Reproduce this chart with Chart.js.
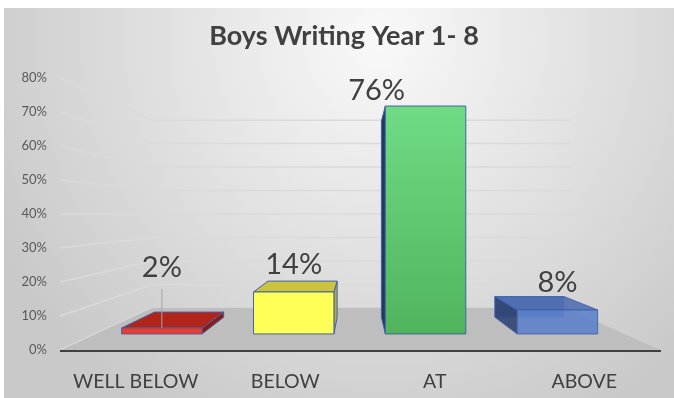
<!DOCTYPE html>
<html>
<head>
<meta charset="utf-8">
<title>Boys Writing Year 1- 8</title>
<script src="https://cdn.jsdelivr.net/npm/chart.js@4.4.1/dist/chart.umd.min.js"></script>
<style>
  html, body { margin: 0; padding: 0; background: #fff; }
  #wrap { width: 674px; height: 398px; }
</style>
</head>
<body>
<div id="wrap"><canvas id="chart" width="674" height="398"></canvas></div>
<script>
const chartTitle = 'Boys Writing Year 1- 8';
const categories = ['WELL BELOW', 'BELOW', 'AT', 'ABOVE'];
const boysWriting = [2, 14, 76, 8];
const yMin = 0;
const yMax = 80;
const yStep = 10;

// face colours per bar: front, top, side
const faces = [
  { front: '#ee3a2b', top: '#b0241a', side: '#8c1b13', alpha: 1 },
  { front: '#ffff57', top: '#c9c33d', side: '#b3ae36', alpha: 1 },
  { front: ['#6fdc85', '#50b45d'], top: '#5cc46e', side: '#213a55', alpha: 1 },
  { front: '#5b7fcb', top: '#4e6cb2', side: '#2d4271', alpha: 0.88 }
];
// where each value label sits, relative to just above the bar
const labelShift = [[0, -33], [0, 0], [-49, 12], [0, 0]];

// perspective: depth 0 is the axis plane, walls sit furthest back
const EYE_VALUE = 40;
const D_FRONT = 0.118;
const D_BACK = 0.241;
const D_WALL = 0.31;

function vanish(chart) {
  const a = chart.chartArea;
  return { x: (a.left + a.right) / 2 - 3, y: chart.scales.y.getPixelForValue(EYE_VALUE) };
}

function proj(vp, x, y, d) {
  return [x + (vp.x - x) * d, y + (vp.y - y) * d];
}

function poly(ctx, pts, fill, stroke) {
  ctx.beginPath();
  ctx.moveTo(pts[0][0], pts[0][1]);
  for (let i = 1; i < pts.length; i++) ctx.lineTo(pts[i][0], pts[i][1]);
  ctx.closePath();
  if (fill) { ctx.fillStyle = fill; ctx.fill(); }
  if (stroke) { ctx.strokeStyle = stroke; ctx.stroke(); }
}

const backdrop = {
  id: 'backdrop',
  beforeDraw(chart) {
    const { ctx, width, height } = chart;
    ctx.save();
    ctx.fillStyle = '#fff';
    ctx.fillRect(0, 0, width, height);
    const g = ctx.createRadialGradient(380, 40, 10, 380, 40, 430);
    g.addColorStop(0, '#f8f8f8');
    g.addColorStop(1, '#c9c9c9');
    ctx.fillStyle = g;
    ctx.fillRect(4, 8, width - 4, height - 8);
    // title sits a little right of the canvas centre
    ctx.fillStyle = '#404040';
    ctx.font = 'bold 27px Lato';
    ctx.textAlign = 'center';
    ctx.textBaseline = 'middle';
    ctx.fillText(chartTitle, 344, 36);
    ctx.restore();
  }
};

const room = {
  id: 'room',
  beforeDatasetsDraw(chart) {
    const { ctx, chartArea: a, scales: { y } } = chart;
    const vp = vanish(chart);
    ctx.save();
    // gridlines run along the side wall then across the back wall
    ctx.lineWidth = 1.5;
    ctx.strokeStyle = '#dadada';
    y.ticks.forEach(t => {
      const py = y.getPixelForValue(t.value);
      const bl = proj(vp, a.left, py, D_WALL);
      const br = proj(vp, a.right, py, D_WALL);
      ctx.beginPath();
      ctx.moveTo(a.left - 1, py);
      ctx.lineTo(bl[0], bl[1]);
      ctx.lineTo(br[0] + 5, br[1]);
      ctx.stroke();
    });
    // floor
    const base = y.getPixelForValue(0);
    poly(ctx, [
      [a.left, base], [a.right + 1, base],
      proj(vp, a.right + 1, base, D_WALL), proj(vp, a.left, base, D_WALL)
    ], '#bebebe');
    ctx.lineWidth = 2;
    ctx.strokeStyle = '#404040';
    ctx.beginPath();
    ctx.moveTo(a.left - 1, base + 1);
    ctx.lineTo(a.right + 2, base + 1);
    ctx.stroke();
    ctx.restore();
  },
  afterDatasetsDraw(chart) {
    const { ctx } = chart;
    const vp = vanish(chart);
    const meta = chart.getDatasetMeta(0);
    ctx.save();
    ctx.lineWidth = 1;
    ctx.lineJoin = 'round';
    meta.data.forEach((bar, i) => {
      const { x, y, base, width } = bar.getProps(['x', 'y', 'base', 'width'], true);
      const L = x - width / 2, R = x + width / 2;
      const c = faces[i];
      const fTL = proj(vp, L, y, D_FRONT), fTR = proj(vp, R, y, D_FRONT);
      const fBL = proj(vp, L, base, D_FRONT), fBR = proj(vp, R, base, D_FRONT);
      const bTL = proj(vp, L, y, D_BACK), bTR = proj(vp, R, y, D_BACK);
      const bBL = proj(vp, L, base, D_BACK), bBR = proj(vp, R, base, D_BACK);
      const edge = '#4063a8';
      ctx.globalAlpha = c.alpha;
      if (c.alpha < 1) {
        // see-through box: hidden faces first
        poly(ctx, [bTL, bTR, bBR, bBL], c.top, 'rgba(120,150,210,0.9)');
      }
      if (x < vp.x) poly(ctx, [fTR, bTR, bBR, fBR], c.side, edge);
      else poly(ctx, [fTL, bTL, bBL, fBL], c.side, edge);
      if (y > vp.y) poly(ctx, [fTL, fTR, bTR, bTL], c.top, edge);
      let front = c.front;
      if (Array.isArray(front)) {
        const g = ctx.createLinearGradient(0, fTL[1], 0, fBL[1]);
        g.addColorStop(0, front[0]);
        g.addColorStop(1, front[1]);
        front = g;
      }
      poly(ctx, [fTL, fTR, fBR, fBL], front, edge);
      ctx.globalAlpha = 1;

      // value label
      const lx = (fTL[0] + fTR[0]) / 2 + labelShift[i][0];
      const ly = fTL[1] - 27 + labelShift[i][1];
      if (labelShift[i][1] < -20) {
        ctx.strokeStyle = '#a6a6a6';
        ctx.beginPath();
        ctx.moveTo(lx, ly + 21);
        ctx.lineTo((fTL[0] + fTR[0]) / 2, fTL[1]);
        ctx.stroke();
      }
      ctx.fillStyle = '#404040';
      ctx.font = '29px Lato';
      ctx.textAlign = 'center';
      ctx.textBaseline = 'middle';
      ctx.fillText(boysWriting[i] + '%', lx, ly);
    });
    ctx.restore();
  }
};

new Chart(document.getElementById('chart'), {
  type: 'bar',
  data: {
    labels: categories,
    datasets: [{
      data: boysWriting,
      backgroundColor: 'rgba(0,0,0,0)',
      borderWidth: 0,
      barPercentage: 0.61,
      categoryPercentage: 1
    }]
  },
  options: {
    responsive: false,
    animation: false,
    layout: { padding: { left: 14, right: 15, top: 78, bottom: 0 } },
    plugins: {
      legend: { display: false },
      tooltip: { enabled: false },
      title: { display: false }
    },
    scales: {
      x: {
        grid: { display: false, drawTicks: false },
        border: { display: false },
        ticks: { color: '#404040', font: { family: 'Lato', size: 19.5 }, padding: 20 },
        afterFit(s) { s.height = 48; }
      },
      y: {
        min: yMin,
        max: yMax,
        grid: { display: false, drawTicks: false },
        border: { display: false },
        ticks: {
          stepSize: yStep,
          color: '#595959',
          font: { family: 'Lato', size: 13 },
          padding: 14,
          callback: v => v + '%'
        },
        afterFit(s) { s.width = 47; }
      }
    }
  },
  plugins: [backdrop, room]
});
</script>
</body>
</html>
